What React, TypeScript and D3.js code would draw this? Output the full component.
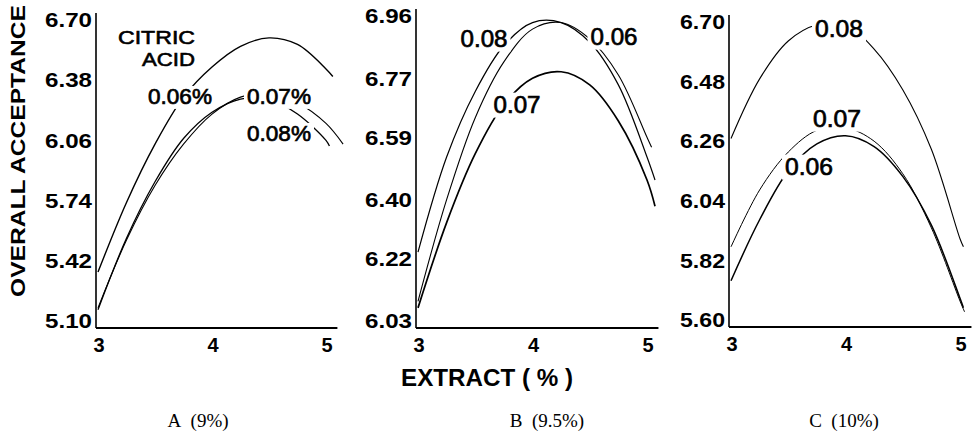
import React, { useEffect, useRef } from 'react';
import * as d3 from 'd3';

// extract (%) grid the curves were read on
const extractPct = [3, 3.25, 3.5, 3.75, 4, 4.25, 4.5, 4.75, 5];

// A (9%) - overall acceptance per citric acid level
const a006 = [5.36, 5.73, 6.04, 6.29, 6.45, 6.56, 6.605, 6.57, 6.44];
const a007 = [5.17, 5.53, 5.82, 6.04, 6.2, 6.29, 6.31, 6.26, 6.15];
const a008 = [5.16, 5.54, 5.84, 6.07, 6.21, 6.28, 6.28, 6.2, 6.06];
const aEnds = [[5.06, 6.4], [5.15, 6.04], [5.03, 6.03]];

// B (9.5%)
const b006 = [6.09, 6.4, 6.65, 6.82, 6.92, 6.94, 6.89, 6.78, 6.59];
const b007 = [6.07, 6.33, 6.54, 6.69, 6.77, 6.79, 6.75, 6.64, 6.46];
const b008 = [6.24, 6.53, 6.73, 6.87, 6.94, 6.94, 6.88, 6.75, 6.53];
const bEnds = [[5.04, 6.56], [5.07, 6.38], [5.07, 6.46]];

// C (10%)
const c006 = [5.745, 5.97, 6.15, 6.25, 6.28, 6.24, 6.13, 5.95, 5.68];
const c007 = [5.87, 6.08, 6.22, 6.3, 6.31, 6.26, 6.14, 5.94, 5.67];
const c008 = [6.27, 6.49, 6.63, 6.69, 6.69, 6.6, 6.45, 6.23, 5.9];
const cEnds = [[5.03, 5.645], [5.04, 5.63], [5.03, 5.87]];

const aTicks = [5.1, 5.42, 5.74, 6.06, 6.38, 6.7];
const bTicks = [6.03, 6.22, 6.4, 6.59, 6.77, 6.96];
const cTicks = [5.6, 5.82, 6.04, 6.26, 6.48, 6.7];
const xTicks = [3, 4, 5];

const aLabels = ['0.06%', '0.07%', '0.08%'];
const bLabels = ['0.06', '0.07', '0.08'];
const cLabels = ['0.06', '0.07', '0.08'];
const legendWords = ['CITRIC', 'ACID'];
const panelNames = ['A\u00a0\u00a0(9%)', 'B\u00a0\u00a0(9.5%)', 'C\u00a0\u00a0(10%)'];

const sans = '"Liberation Sans", Arial, sans-serif';

const App = () => {
    const ref = useRef<SVGSVGElement>(null);

    useEffect(() => {
        const svg = d3.select(ref.current);
        svg.selectAll('*').remove();

        const panels = [
            {
                ticks: aTicks, x: [98, 326], y: [321, 20], tickLen: 47, name: panelNames[0], nameX: 198,
                series: [a006, a007, a008], ends: aEnds, widths: [1.4, 1.1, 1.3],
                labels: aLabels, labelPos: [[180, 96], [279, 96], [279, 133]], labelSize: 22, labelLen: 64,
            },
            {
                ticks: bTicks, x: [418, 647], y: [321, 16], tickLen: 47, name: panelNames[1], nameX: 547,
                series: [b006, b007, b008], ends: bEnds, widths: [1.1, 1.7, 1.2],
                labels: bLabels, labelPos: [[614, 36], [517, 104], [484, 38]], labelSize: 24, labelLen: 47,
            },
            {
                ticks: cTicks, x: [731, 960], y: [320, 22], tickLen: 45, name: panelNames[2], nameX: 844,
                series: [c006, c007, c008], ends: cEnds, widths: [1.5, 1.0, 1.1],
                labels: cLabels, labelPos: [[809, 166], [837, 118], [839, 28]], labelSize: 24, labelLen: 48,
            },
        ];

        panels.forEach((p) => {
            const xScale = d3.scaleLinear().domain([3, 5]).range(p.x);
            const yScale = d3.scaleLinear().domain([p.ticks[0], p.ticks[p.ticks.length - 1]]).range(p.y);
            const g = svg.append('g');
            const base = yScale(p.ticks[0]) + 7;
            const x0 = xScale(3) - 2;

            // axes
            g.append('line')
                .attr('x1', x0).attr('x2', x0)
                .attr('y1', base).attr('y2', p.y[1] - 7)
                .attr('stroke', '#000').attr('stroke-width', 1.6);
            g.append('line')
                .attr('x1', x0).attr('x2', xScale(5.1))
                .attr('y1', base).attr('y2', base)
                .attr('stroke', '#000').attr('stroke-width', 1.8);

            g.selectAll('.ytick')
                .data(p.ticks)
                .enter()
                .append('text')
                .attr('x', x0 - 4)
                .attr('y', d => yScale(d))
                .attr('dy', '0.36em')
                .attr('text-anchor', 'end')
                .attr('font-family', sans)
                .attr('font-weight', 'bold')
                .attr('font-size', 20)
                .attr('textLength', p.tickLen)
                .attr('lengthAdjust', 'spacingAndGlyphs')
                .text(d => d.toFixed(2));

            g.selectAll('.xtick')
                .data(xTicks)
                .enter()
                .append('text')
                .attr('x', d => xScale(d) + 1)
                .attr('y', base + 17)
                .attr('dy', '0.36em')
                .attr('text-anchor', 'middle')
                .attr('font-family', sans)
                .attr('font-weight', 'bold')
                .attr('font-size', 20)
                .text(d => d);

            // curves
            const line = d3.line<number[]>()
                .x(d => xScale(d[0]))
                .y(d => yScale(d[1]))
                .curve(d3.curveCatmullRom.alpha(0.5));

            p.series.forEach((vals, i) => {
                const pts = extractPct.map((e, j) => [e, vals[j]]);
                pts.push(p.ends[i]);
                g.append('path')
                    .attr('d', line(pts))
                    .attr('fill', 'none')
                    .attr('stroke', '#000')
                    .attr('stroke-width', p.widths[i]);
            });

            // curve labels, with a white patch to break the lines
            p.labels.forEach((lab, i) => {
                const t = g.append('text')
                    .attr('x', p.labelPos[i][0])
                    .attr('y', p.labelPos[i][1])
                    .attr('dy', '0.36em')
                    .attr('text-anchor', 'middle')
                    .attr('font-family', sans)
                    .attr('font-size', p.labelSize)
                    .attr('stroke', '#000')
                    .attr('stroke-width', 0.7)
                    .attr('textLength', p.labelLen)
                    .attr('lengthAdjust', 'spacingAndGlyphs')
                    .text(lab);
                const bb = (t.node() as SVGTextElement).getBBox();
                g.insert('rect', () => t.node())
                    .attr('x', bb.x - 3).attr('y', bb.y + 2)
                    .attr('width', bb.width + 6).attr('height', bb.height - 2)
                    .attr('fill', '#fff');
            });

            svg.append('text')
                .attr('x', p.nameX)
                .attr('y', 420)
                .attr('dy', '0.36em')
                .attr('text-anchor', 'middle')
                .attr('font-family', '"Liberation Serif", "Times New Roman", serif')
                .attr('font-size', 19)
                .text(p.name);
        });

        // citric acid legend title
        const legendLen = [77, 53];
        legendWords.forEach((w, i) => {
            svg.append('text')
                .attr('x', 195)
                .attr('y', 44 + i * 22)
                .attr('text-anchor', 'end')
                .attr('font-family', sans)
                .attr('font-size', 19)
                .attr('stroke', '#000')
                .attr('stroke-width', 0.6)
                .attr('textLength', legendLen[i])
                .attr('lengthAdjust', 'spacingAndGlyphs')
                .text(w);
        });

        svg.append('text')
            .attr('transform', 'translate(18,151) rotate(-90)')
            .attr('dy', '0.36em')
            .attr('text-anchor', 'middle')
            .attr('font-family', sans)
            .attr('font-weight', 'bold')
            .attr('font-size', 20)
            .attr('textLength', 292)
            .attr('lengthAdjust', 'spacingAndGlyphs')
            .text('OVERALL ACCEPTANCE');

        svg.append('text')
            .attr('x', 487)
            .attr('y', 378)
            .attr('dy', '0.36em')
            .attr('text-anchor', 'middle')
            .attr('font-family', sans)
            .attr('font-weight', 'bold')
            .attr('font-size', 23)
            .attr('textLength', 172)
            .attr('lengthAdjust', 'spacingAndGlyphs')
            .text('EXTRACT ( % )');
    }, []);

    return (
        <div style={{ position: 'absolute', left: 0, top: 0 }}>
            <svg ref={ref} width={972} height={434} style={{ display: 'block', background: '#fff' }} />
        </div>
    );
};

export default App;
